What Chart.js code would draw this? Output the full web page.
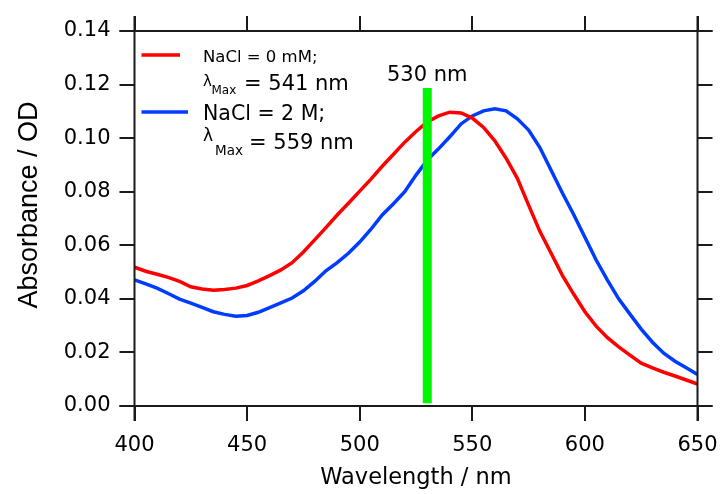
<!DOCTYPE html>
<html>
<head>
<meta charset="utf-8">
<script src="https://cdn.jsdelivr.net/npm/chart.js@4.4.1/dist/chart.umd.min.js"></script>
<style>
  html, body { margin: 0; padding: 0; background: #fff; }
  #wrap { width: 725px; height: 494px; }
</style>
</head>
<body>
<div id="wrap"><canvas id="c" width="725" height="494"></canvas></div>
<script>
// ---- Data ----
const wavelengths = [400,405,410,415,420,425,430,435,440,445,450,455,460,465,470,475,480,485,490,495,
  500,505,510,515,520,525,530,535,540,545,550,555,560,565,570,575,580,585,590,595,
  600,605,610,615,620,625,630,635,640,645,650];
const absNaCl0mM = [0.0518,0.0503,0.0492,0.0480,0.0465,0.0445,0.0437,0.0432,0.0435,0.0440,
  0.0450,0.0467,0.0487,0.0508,0.0535,0.0575,0.0620,0.0666,0.0713,0.0757,
  0.0802,0.0847,0.0895,0.0940,0.0985,0.1025,0.1060,0.1083,0.1097,0.1094,
  0.1075,0.1040,0.0990,0.0925,0.0850,0.0750,0.0652,0.0570,0.0488,0.0418,
  0.0352,0.0298,0.0255,0.0221,0.0190,0.0160,0.0142,0.0126,0.0112,0.0097,0.0082];
const absNaCl2M = [0.0471,0.0456,0.0440,0.0420,0.0399,0.0384,0.0368,0.0352,0.0342,0.0335,
  0.0338,0.0350,0.0367,0.0385,0.0403,0.0430,0.0465,0.0505,0.0535,0.0570,
  0.0612,0.0660,0.0713,0.0755,0.0800,0.0862,0.0918,0.0960,0.1005,0.1053,
  0.1083,0.1102,0.1110,0.1102,0.1072,0.1030,0.0965,0.0880,0.0795,0.0715,
  0.0630,0.0545,0.0470,0.0400,0.0343,0.0287,0.0238,0.0197,0.0167,0.0143,0.0118];
const markerWavelength = [530, 530];
const markerAbs = [0.001, 0.1187];
const xTickStep = 50;
const yTickStep = 0.02;

const toXY = (xs, ys) => xs.map((x, i) => ({x: x, y: ys[i]}));

const TICK_FONT = {family: 'DejaVu Sans', size: 21};
const INK = '#1a1a1a';

// frame + annotation text plugin
const decor = {
  id: 'decor',
  afterDraw(chart) {
    const ctx = chart.ctx;
    const a = chart.chartArea;
    const ext = 15;
    ctx.save();
    ctx.strokeStyle = INK;
    ctx.lineWidth = 2;
    ctx.beginPath();
    ctx.moveTo(a.left - ext, a.bottom); ctx.lineTo(a.right + ext, a.bottom);
    ctx.moveTo(a.left - ext, a.top); ctx.lineTo(a.right + ext, a.top);
    ctx.moveTo(a.left, a.top - ext); ctx.lineTo(a.left, a.bottom + ext);
    ctx.moveTo(a.right, a.top - ext); ctx.lineTo(a.right, a.bottom + ext);
    ctx.stroke();

    // legend sample lines
    ctx.lineWidth = 3.5;
    ctx.strokeStyle = 'rgb(255,0,0)';
    ctx.beginPath(); ctx.moveTo(141.5, 55); ctx.lineTo(180, 55); ctx.stroke();
    ctx.strokeStyle = 'rgb(0,60,255)';
    ctx.beginPath(); ctx.moveTo(141.5, 112); ctx.lineTo(188, 112); ctx.stroke();

    ctx.fillStyle = '#000';
    ctx.textAlign = 'left';
    ctx.textBaseline = 'alphabetic';
    const f = s => s + 'px "DejaVu Sans"';
    ctx.font = f(16.5); ctx.fillText('NaCl = 0 mM;', 203, 61.5);
    ctx.font = f(15); ctx.fillText('λ', 203, 85.5);
    ctx.font = f(12); ctx.fillText('Max', 211.5, 94);
    ctx.font = f(21); ctx.fillText('= 541 nm', 244, 89.5);

    ctx.font = f(20.5); ctx.fillText('NaCl = 2 M;', 203, 120);
    ctx.font = f(17); ctx.fillText('λ', 203, 140.5);
    ctx.font = f(13.5); ctx.fillText('Max', 215, 155);
    ctx.font = f(21); ctx.fillText('= 559 nm', 249, 148.5);

    ctx.font = f(21); ctx.fillText('530 nm', 387, 80.5);

    // y axis title
    ctx.font = '27px "Liberation Sans"';
    ctx.translate(37, 205);
    ctx.rotate(-Math.PI / 2);
    ctx.textAlign = 'center';
    ctx.fillText('Absorbance / OD', 0, 0);
    ctx.restore();
  }
};

const gridOpts = {
  drawOnChartArea: false,
  drawTicks: true,
  tickLength: 15,
  tickWidth: 2,
  tickColor: INK,
  color: INK,
  lineWidth: 2
};

const noPad = s => { s.paddingLeft = 0; s.paddingRight = 0; };

new Chart(document.getElementById('c'), {
  type: 'line',
  data: {
    datasets: [
      {
        label: '530 nm',
        data: toXY(markerWavelength, markerAbs),
        borderColor: 'rgb(0,245,0)',
        borderWidth: 9,
        borderCapStyle: 'butt',
        pointRadius: 0,
        tension: 0
      },
      {
        label: 'NaCl = 0 mM',
        data: toXY(wavelengths, absNaCl0mM),
        borderColor: 'rgb(255,0,0)',
        borderWidth: 3.5,
        pointRadius: 0,
        tension: 0
      },
      {
        label: 'NaCl = 2 M',
        data: toXY(wavelengths, absNaCl2M),
        borderColor: 'rgb(0,60,255)',
        borderWidth: 3.5,
        pointRadius: 0,
        tension: 0
      }
    ]
  },
  options: {
    responsive: false,
    animation: false,
    devicePixelRatio: 1,
    layout: { padding: 0 },
    plugins: { legend: { display: false }, tooltip: { enabled: false } },
    scales: {
      x: {
        type: 'linear', position: 'bottom', min: 400, max: 650,
        ticks: { stepSize: xTickStep, font: TICK_FONT, color: '#000', padding: 12, maxRotation: 0 },
        grid: gridOpts,
        border: { display: false },
        title: { display: true, text: 'Wavelength / nm', font: {family: 'DejaVu Sans', size: 22.5}, color: '#000', padding: {top: 0, bottom: 2.5} },
        afterFit: s => { s.height = 88; noPad(s); }
      },
      x2: {
        type: 'linear', position: 'top', min: 400, max: 650,
        ticks: { stepSize: xTickStep, font: TICK_FONT, color: 'rgba(0,0,0,0)' },
        grid: gridOpts,
        border: { display: false },
        afterFit: s => { s.height = 31; noPad(s); }
      },
      y: {
        type: 'linear', position: 'left', min: 0, max: 0.14,
        ticks: { stepSize: yTickStep, font: TICK_FONT, color: '#000', padding: 9, callback: v => v.toFixed(2) },
        grid: gridOpts,
        border: { display: false },
        afterFit: s => { s.width = 134.5; }
      },
      y2: {
        type: 'linear', position: 'right', min: 0, max: 0.14,
        ticks: { stepSize: yTickStep, font: TICK_FONT, color: 'rgba(0,0,0,0)', callback: v => v.toFixed(2) },
        grid: gridOpts,
        border: { display: false },
        afterFit: s => { s.width = 27.5; }
      }
    }
  },
  plugins: [decor]
});
</script>
</body>
</html>
